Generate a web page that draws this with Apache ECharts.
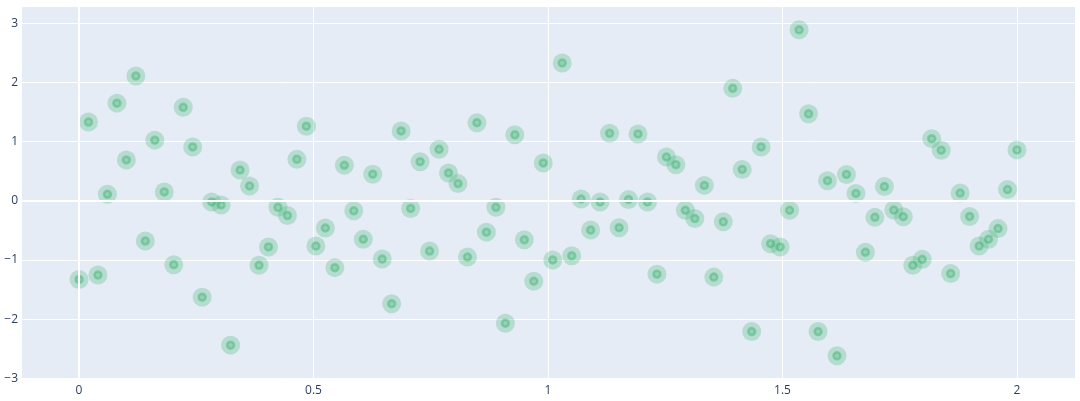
<!DOCTYPE html>
<html>
<head>
<meta charset="utf-8">
<script src="https://cdn.jsdelivr.net/npm/echarts@6/dist/echarts.min.js"></script>
<style>html,body{margin:0;padding:0;background:#fff;}#c{width:1080px;height:401px;}</style>
</head>
<body>
<div id="c"></div>
<script>
var xValues = [0, 0.0202, 0.0404, 0.0606, 0.0808, 0.1010, 0.1212, 0.1414, 0.1616, 0.1818,
  0.2020, 0.2222, 0.2424, 0.2626, 0.2828, 0.3030, 0.3232, 0.3434, 0.3636, 0.3838,
  0.4040, 0.4242, 0.4444, 0.4646, 0.4848, 0.5051, 0.5253, 0.5455, 0.5657, 0.5859,
  0.6061, 0.6263, 0.6465, 0.6667, 0.6869, 0.7071, 0.7273, 0.7475, 0.7677, 0.7879,
  0.8081, 0.8283, 0.8485, 0.8687, 0.8889, 0.9091, 0.9293, 0.9495, 0.9697, 0.9899,
  1.0101, 1.0303, 1.0505, 1.0707, 1.0909, 1.1111, 1.1313, 1.1515, 1.1717, 1.1919,
  1.2121, 1.2323, 1.2525, 1.2727, 1.2929, 1.3131, 1.3333, 1.3535, 1.3737, 1.3939,
  1.4141, 1.4343, 1.4545, 1.4747, 1.4949, 1.5152, 1.5354, 1.5556, 1.5758, 1.5960,
  1.6162, 1.6364, 1.6566, 1.6768, 1.6970, 1.7172, 1.7374, 1.7576, 1.7778, 1.7980,
  1.8182, 1.8384, 1.8586, 1.8788, 1.8990, 1.9192, 1.9394, 1.9596, 1.9798, 2.0];
var yValues = [-1.33, 1.33, -1.255, 0.11, 1.65, 0.69, 2.11, -0.68, 1.025, 0.15,
  -1.08, 1.58, 0.91, -1.63, -0.02, -0.07, -2.44, 0.52, 0.25, -1.09,
  -0.78, -0.11, -0.25, 0.70, 1.26, -0.765, -0.46, -1.13, 0.60, -0.17,
  -0.65, 0.45, -0.985, -1.74, 1.18, -0.13, 0.66, -0.85, 0.87, 0.47,
  0.29, -0.95, 1.32, -0.53, -0.11, -2.07, 1.115, -0.66, -1.36, 0.64,
  -1.0, 2.33, -0.93, 0.03, -0.495, -0.02, 1.14, -0.455, 0.02, 1.13,
  -0.02, -1.24, 0.74, 0.61, -0.16, -0.30, 0.26, -1.29, -0.355, 1.90,
  0.53, -2.21, 0.91, -0.725, -0.78, -0.16, 2.89, 1.47, -2.21, 0.34,
  -2.62, 0.445, 0.125, -0.87, -0.28, 0.24, -0.157, -0.27, -1.09, -0.99,
  1.05, 0.855, -1.23, 0.13, -0.265, -0.765, -0.65, -0.47, 0.19, 0.86];

var points = xValues.map(function (x, i) { return [x, yValues[i]]; });
var fontFamily = '"Open Sans", "DejaVu Sans", sans-serif';
function minusFmt(v) { return String(v).replace('-', '\u2212'); }

var chart = echarts.init(document.getElementById('c'), null, { renderer: 'canvas' });
chart.setOption({
  animation: false,
  backgroundColor: '#ffffff',
  grid: { left: 21, right: 5, top: 6, bottom: 22, show: true, backgroundColor: '#E5ECF6', borderWidth: 0 },
  xAxis: {
    type: 'value', min: -0.1237, max: 2.1237, splitNumber: 5,
    axisLine: { show: false }, axisTick: { show: false },
    axisLabel: { showMinLabel: false, showMaxLabel: false, color: '#2a3f5f', fontSize: 12, fontFamily: fontFamily, margin: 6, formatter: minusFmt },
    splitLine: { show: true, lineStyle: { color: '#ffffff', width: 1 } }
  },
  yAxis: {
    type: 'value', min: -3.012, max: 3.292, splitNumber: 5,
    axisLine: { show: false }, axisTick: { show: false },
    axisLabel: { showMinLabel: false, showMaxLabel: false, color: '#2a3f5f', fontSize: 12, fontFamily: fontFamily, margin: 3, formatter: minusFmt },
    splitLine: { show: true, lineStyle: { color: '#ffffff', width: 1 } }
  },
  series: [
    {
      type: 'scatter', data: [], z: 1, silent: true,
      markLine: {
        silent: true, symbol: 'none', label: { show: false },
        lineStyle: { color: '#ffffff', width: 2, type: 'solid' },
        data: [{ yAxis: 0 }, { xAxis: 0 }]
      }
    },
    {
      type: 'scatter', data: points, z: 2, symbolSize: 19,
      itemStyle: { color: 'rgba(60,179,113,0.28)', opacity: 1 }
    },
    {
      type: 'scatter', data: points, z: 3, symbolSize: 7,
      itemStyle: { color: 'rgba(60,179,113,0.28)', borderColor: 'rgba(60,179,113,0.42)', borderWidth: 2.5, opacity: 1 }
    }
  ]
});
</script>
</body>
</html>
